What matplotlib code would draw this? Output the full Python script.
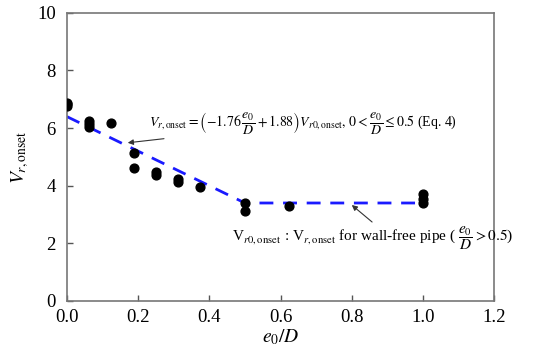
import matplotlib
matplotlib.use("Agg")
import matplotlib.pyplot as plt

plt.rcParams['font.family'] = ['Liberation Serif', 'DejaVu Serif']
plt.rcParams['mathtext.fontset'] = 'stix'

# measured data
x_pts = [0.0, 0.0, 0.0, 0.0625, 0.0625, 0.0625, 0.125, 0.1875, 0.1875,
         0.25, 0.25, 0.3125, 0.3125, 0.375, 0.5, 0.5, 0.625, 1.0, 1.0, 1.0]
y_pts = [6.78, 6.85, 6.88, 6.05, 6.15, 6.25, 6.18, 5.15, 4.62,
         4.48, 4.38, 4.22, 4.12, 3.95, 3.4, 3.12, 3.28, 3.7, 3.55, 3.4]

# fitted line (Eq. 4 and wall-free plateau)
x_fit = [0.0, 0.5, 1.0]
y_fit = [6.4, 3.4, 3.4]

x_ticks = [0.0, 0.2, 0.4, 0.6, 0.8, 1.0, 1.2]
y_ticks = [0, 2, 4, 6, 8, 10]

fig = plt.figure(figsize=(5.39, 3.57), dpi=100)
ax = fig.add_axes([0.124, 0.157, 0.793, 0.807])

ax.plot(x_fit, y_fit, linestyle=(0, (5, 3.5)), color='#1a1aff', lw=2, zorder=2)
ax.scatter(x_pts, y_pts, s=40, color='black', zorder=3)

ax.set_xlim(0, 1.2)
ax.set_ylim(0, 10)
ax.set_xticks(x_ticks)
ax.set_xticklabels([f"{v:.1f}" for v in x_ticks])
ax.set_yticks(y_ticks)
ax.set_yticklabels([str(v) for v in y_ticks])
ax.tick_params(direction='in', length=4, width=1, color='#555555', labelsize=13.5)
ax.tick_params(axis='x', pad=6)
ax.tick_params(axis='y', pad=8)
for s in ax.spines.values():
    s.set_color('#777777')
    s.set_linewidth(1.2)

ax.set_xlabel(r'$e_0/D$', fontsize=14, labelpad=1)
ax.set_ylabel(r'$V_{r,\mathrm{onset}}$', fontsize=14, labelpad=4)

ax.annotate(r'$V_{r,\mathrm{onset}}=\left(-1.76\,\dfrac{e_0}{D}+1.88\right)V_{r0,\mathrm{onset}},\,0<\dfrac{e_0}{D}\leq 0.5$ (Eq. 4)',
            xy=(0.171, 5.49), xytext=(0.232, 6.18), fontsize=10, va='center', ha='left',
            arrowprops=dict(arrowstyle='-|>', color='#333333', lw=0.8, mutation_scale=8,
                            shrinkA=0, shrinkB=0))

ax.text(0.464, 2.2, r'V$_{r0,\mathrm{onset}}$ : V$_{r,\mathrm{onset}}$ for wall-free pipe ( $\dfrac{e_0}{D}>0.5$)',
        fontsize=11, va='center', ha='left')
ax.annotate('', xy=(0.80, 3.33), xytext=(0.857, 2.74),
            arrowprops=dict(arrowstyle='-|>', color='#333333', lw=0.8, mutation_scale=8,
                            shrinkA=0, shrinkB=0))

fig.savefig('out.png', dpi=100)
